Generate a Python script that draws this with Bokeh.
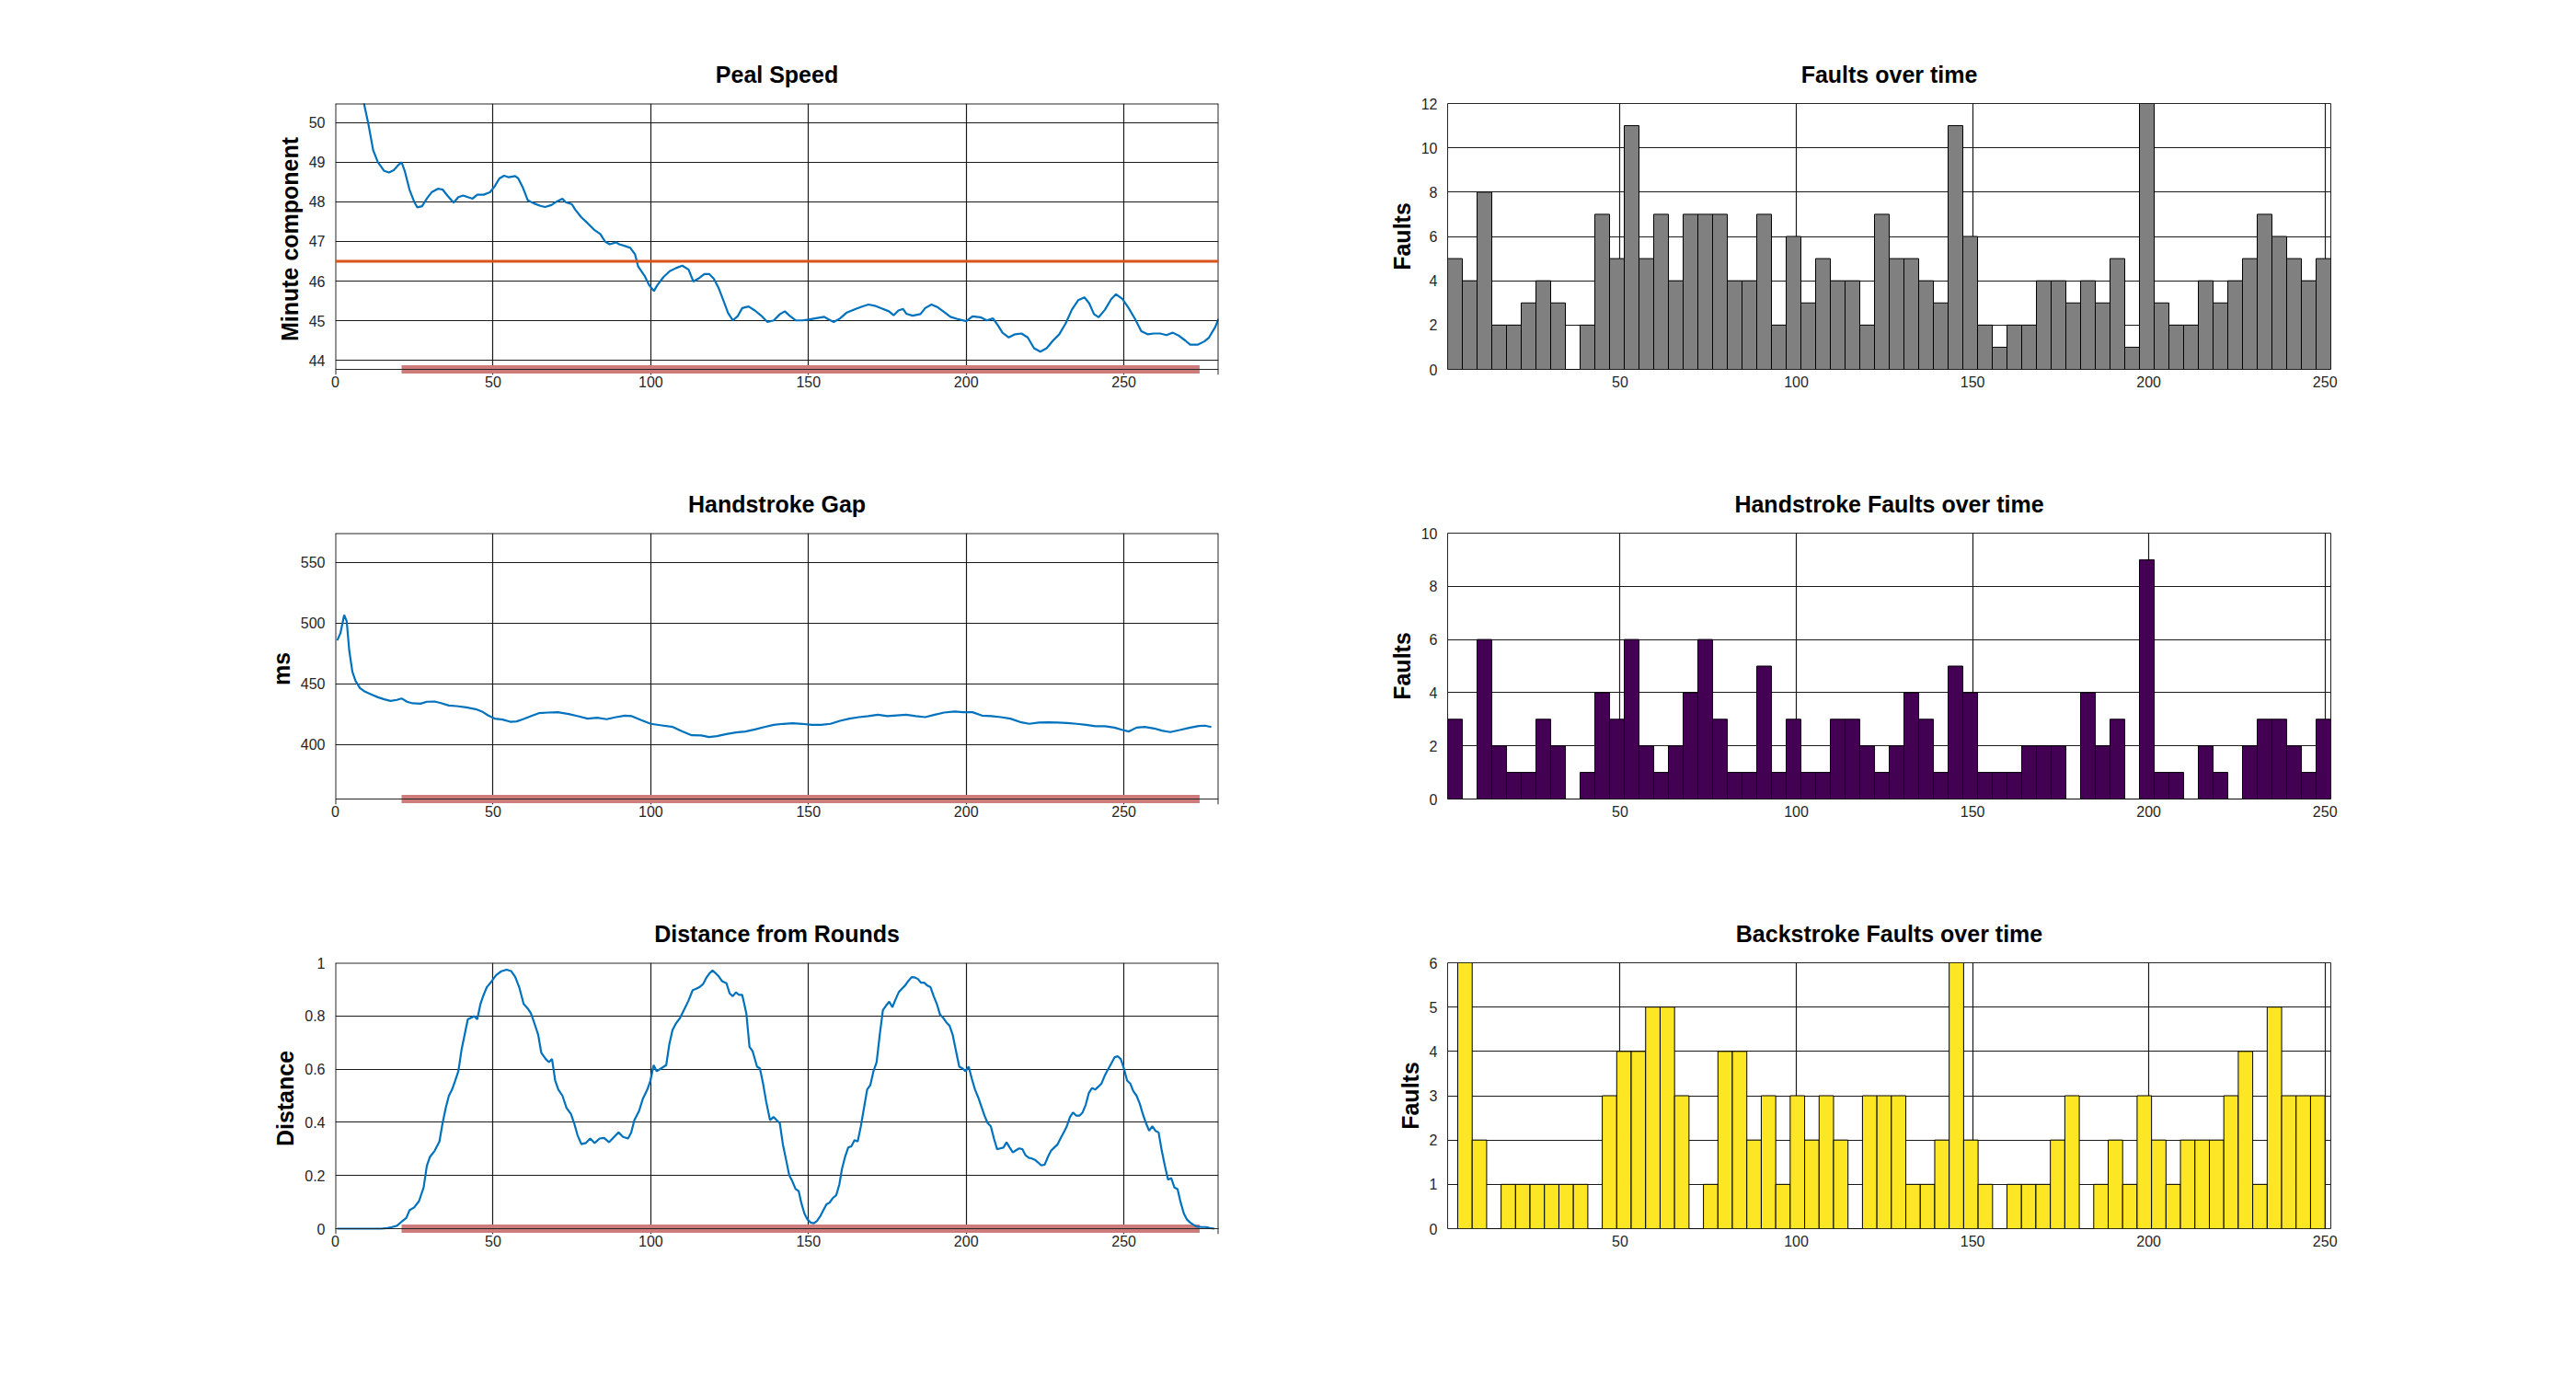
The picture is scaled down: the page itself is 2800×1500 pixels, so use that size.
import numpy as np
from bokeh.plotting import figure
from bokeh.layouts import column, row
from bokeh.models import FixedTicker, Span, Range1d
from bokeh.embed import file_html
from bokeh.resources import INLINE

# --- Linienplots (links) ---
speed_x = [1, 5, 9, 10.5, 12, 13.5, 15.5, 17, 18.5, 20, 21, 22, 23.5, 25, 26, 27.5, 29, 30.5, 32.5, 34,
           35.5, 37.5, 39, 40.5, 42, 43.5, 45, 47, 49, 50.5, 52, 53.5, 55, 57, 58, 59.5, 61, 63, 65, 66.5,
           68.5, 70, 72, 73, 75, 76, 78, 80, 82, 84, 85.5, 87, 89, 90, 92, 93.5, 95, 96, 98, 99.5,
           101, 102, 104, 106, 108, 110, 112, 113.5, 115, 117, 118.5, 120, 121.5, 123, 124.5, 126, 127.5, 129, 131, 133,
           135, 137, 139, 141, 142.5, 144, 146, 148, 150, 152, 155, 156, 158, 160, 162, 165, 167, 169, 171, 173,
           175.5, 177, 178.5, 180, 181, 183, 185.5, 187, 189, 191, 193, 195, 197, 200, 202, 204.5, 206.5, 208.5, 210, 211.5,
           213.5, 215.5, 217.5, 219.5, 221.5, 223.5, 225.5, 227.5, 229.5, 231.5, 233.5, 235.5, 237.5, 239, 240.5, 242, 244, 246, 247.5, 249.5,
           251.5, 253.5, 255.5, 257.5, 259.5, 261.5, 263.5, 265.5, 267.5, 269.5, 271, 273.5, 275.5, 277, 279, 280]
speed_y = [54.0, 52.0, 50.51, 49.95, 49.3, 49.0, 48.78, 48.74, 48.8, 48.93, 49.0, 48.78, 48.31, 48.0, 47.86, 47.89, 48.08, 48.24, 48.33, 48.31,
           48.16, 47.98, 48.12, 48.16, 48.12, 48.08, 48.18, 48.18, 48.24, 48.39, 48.59, 48.66, 48.62, 48.65, 48.59, 48.35, 48.04, 47.96, 47.9, 47.87,
           47.92, 48.0, 48.08, 47.99, 47.94, 47.81, 47.61, 47.46, 47.3, 47.19, 47.0, 46.93, 46.98, 46.93, 46.88, 46.84, 46.68, 46.37, 46.14, 45.9,
           45.75, 45.89, 46.1, 46.25, 46.33, 46.39, 46.29, 45.99, 46.06, 46.18, 46.18, 46.06, 45.83, 45.52, 45.2, 45.01, 45.11, 45.32, 45.36, 45.26,
           45.13, 44.97, 45.01, 45.17, 45.24, 45.13, 45.01, 45.01, 45.03, 45.06, 45.1, 45.05, 44.97, 45.06, 45.2, 45.3, 45.36, 45.41, 45.38, 45.32,
           45.24, 45.14, 45.26, 45.3, 45.18, 45.13, 45.17, 45.32, 45.41, 45.34, 45.22, 45.1, 45.05, 44.99, 45.11, 45.09, 45.01, 45.06, 44.89, 44.7,
           44.58, 44.66, 44.68, 44.58, 44.31, 44.22, 44.31, 44.5, 44.66, 44.93, 45.28, 45.52, 45.59, 45.44, 45.17, 45.09, 45.28, 45.55, 45.67, 45.55,
           45.32, 45.05, 44.74, 44.66, 44.68, 44.68, 44.64, 44.7, 44.62, 44.5, 44.4, 44.4, 44.48, 44.58, 44.85, 45.05]
speed_target = 46.5

gap_x = [0.6, 1.6, 2.8, 3.6, 4.4, 5.4, 6.4, 7.8, 9.4, 11.5, 13.5, 15.5, 17.5, 19.5, 21, 22.7, 24.5, 27, 29, 31.5,
         33.5, 36, 38.5, 41.5, 44.5, 46.5, 48.5, 50.5, 53, 55.5, 57.5, 59.5, 62.5, 64.5, 67.5, 70.5, 74, 77, 80, 83,
         86, 89, 91.8, 94, 97, 100, 103.5, 107, 110, 113, 116, 118.5, 121, 124, 127, 130, 133, 136, 139, 142,
         145, 148, 151, 154, 157, 160, 163, 166, 169, 172, 175, 178, 181, 184, 187, 190, 193, 196.3, 199, 202,
         205, 208, 211, 214, 217.5, 220, 223, 226, 229, 232, 235, 238, 241, 244, 247, 249.6, 251.6, 254, 256.6, 259.6,
         262, 264.7, 267.7, 270.7, 273.7, 275.7, 277.7]
gap_y = [485.9, 491.7, 506.8, 501.8, 477.8, 460.1, 452.5, 446.7, 443.7, 441.2, 439.1, 437.4, 436.1, 436.9, 438.1, 435.4, 434.1, 433.8, 435.4, 435.6,
         434.3, 432.3, 431.8, 430.8, 429.3, 427.3, 424.0, 421.5, 420.7, 418.9, 419.2, 421.0, 424.0, 426.0, 426.5, 426.8, 425.3, 423.5, 421.5, 422.2,
         421.0, 422.7, 424.0, 423.5, 420.2, 417.2, 415.9, 414.6, 410.9, 407.8, 407.6, 406.3, 407.1, 408.8, 410.1, 410.9, 412.6, 414.6, 416.4, 417.2,
         417.7, 417.2, 416.4, 416.4, 417.2, 419.7, 421.5, 422.7, 423.5, 424.7, 423.5, 424.2, 424.7, 423.5, 422.7, 424.7, 426.5, 427.3, 426.8, 426.8,
         424.0, 423.5, 422.7, 421.5, 418.4, 417.2, 418.2, 418.4, 418.2, 417.9, 417.2, 416.4, 415.2, 415.2, 414.1, 412.1, 410.9, 414.1, 414.6, 413.4,
         411.6, 410.4, 412.1, 413.9, 415.4, 415.7, 414.6]

dist_x = [0.6, 14.5, 16.5, 18, 19.5, 21, 22.5, 23.5, 25, 26.5, 28, 29, 30, 31.5, 33, 34, 35, 36, 37, 38,
          39, 40, 41, 42, 43, 44, 45, 46, 47, 48, 49.6, 51, 52.6, 54.3, 55.7, 57, 58.3, 59.7, 61, 62,
          63, 64.3, 65.3, 66.7, 67.7, 68.7, 69.7, 70.7, 72, 73.3, 74.7, 75.7, 76.8, 78, 79.4, 80.8, 82.2, 83.8, 85.2, 86.8,
          88.4, 89.8, 91.2, 92.8, 93.8, 94.8, 96.3, 97.5, 98.9, 99.9, 100.9, 101.9, 103.3, 104.9, 105.9, 106.9, 107.9, 109.3, 110.5, 111.9,
          113.3, 114.4, 115.4, 116.6, 117.6, 118.6, 119.6, 120.6, 121.6, 122.6, 124, 125, 126, 127, 128, 129, 130.3, 131.3, 132.3, 133.7,
          134.6, 135.6, 136.6, 137.8, 138.9, 139.9, 140.9, 141.9, 142.9, 143.9, 144.9, 145.9, 146.9, 147.7, 148.7, 149.7, 150.7, 151.7, 152.7, 153.7,
          154.7, 155.7, 156.7, 157.7, 158.8, 159.8, 160.6, 161.6, 162.6, 163.6, 164.6, 165.6, 166.6, 167.6, 168.6, 169.6, 170.6, 171.6, 172.6, 173.6,
          174.6, 175.6, 176.6, 177.6, 178.6, 179.6, 180.6, 181.6, 182.7, 183.7, 184.7, 185.7, 186.7, 187.7, 188.7, 189.7, 190.7, 191.7, 192.7, 193.7,
          194.7, 195.7, 196.7, 197.8, 198.8, 199.8, 200.8, 201.8, 202.8, 203.8, 204.8, 205.8, 206.8, 207.8, 208.8, 209.8, 210.8, 211.8, 212.8, 213.8,
          214.8, 215.8, 216.8, 217.8, 218.8, 219.8, 220.8, 221.8, 222.8, 223.8, 224.9, 225.9, 226.9, 227.9, 228.9, 229.9, 230.9, 231.9, 232.9, 233.9,
          234.9, 235.9, 236.9, 237.9, 238.9, 239.9, 240.9, 241.9, 242.9, 243.9, 244.9, 246, 247, 248, 249, 250, 251, 252, 253, 254,
          255, 256, 257, 258, 259, 260, 261, 262, 263, 264, 265, 266, 267, 268, 269, 270, 271, 272, 273, 274.7,
          276, 277.3, 278.7]
dist_y = [0.0, 0.0, 0.002, 0.006, 0.011, 0.026, 0.04, 0.069, 0.08, 0.103, 0.155, 0.236, 0.27, 0.293, 0.328, 0.397, 0.454, 0.5, 0.523, 0.557,
          0.592, 0.672, 0.73, 0.787, 0.793, 0.799, 0.787, 0.845, 0.879, 0.908, 0.931, 0.954, 0.968, 0.974, 0.969, 0.948, 0.908, 0.845, 0.828, 0.81,
          0.776, 0.73, 0.661, 0.638, 0.626, 0.638, 0.557, 0.523, 0.5, 0.454, 0.431, 0.397, 0.351, 0.318, 0.322, 0.339, 0.322, 0.339, 0.341, 0.325,
          0.345, 0.362, 0.345, 0.339, 0.362, 0.408, 0.443, 0.489, 0.523, 0.557, 0.615, 0.592, 0.603, 0.615, 0.695, 0.747, 0.77, 0.793, 0.822, 0.856,
          0.897, 0.902, 0.908, 0.92, 0.943, 0.96, 0.971, 0.96, 0.948, 0.931, 0.923, 0.885, 0.874, 0.889, 0.879, 0.879, 0.81, 0.684, 0.667, 0.609,
          0.603, 0.546, 0.477, 0.408, 0.42, 0.408, 0.397, 0.316, 0.259, 0.201, 0.178, 0.149, 0.141, 0.098, 0.057, 0.034, 0.023, 0.02, 0.029, 0.046,
          0.069, 0.092, 0.098, 0.115, 0.126, 0.167, 0.224, 0.27, 0.305, 0.31, 0.333, 0.328, 0.385, 0.454, 0.523, 0.54, 0.592, 0.626, 0.73, 0.822,
          0.839, 0.854, 0.833, 0.862, 0.889, 0.902, 0.914, 0.931, 0.946, 0.945, 0.939, 0.925, 0.925, 0.914, 0.908, 0.874, 0.845, 0.805, 0.793, 0.776,
          0.764, 0.73, 0.672, 0.609, 0.603, 0.592, 0.609, 0.563, 0.523, 0.494, 0.46, 0.425, 0.397, 0.385, 0.339, 0.299, 0.302, 0.305, 0.325, 0.305,
          0.287, 0.295, 0.302, 0.299, 0.276, 0.267, 0.264, 0.259, 0.249, 0.238, 0.241, 0.27, 0.293, 0.305, 0.316, 0.339, 0.362, 0.385, 0.42, 0.437,
          0.425, 0.425, 0.437, 0.466, 0.511, 0.529, 0.523, 0.534, 0.546, 0.575, 0.598, 0.621, 0.644, 0.649, 0.638, 0.603, 0.557, 0.546, 0.517, 0.5,
          0.471, 0.431, 0.397, 0.368, 0.385, 0.368, 0.362, 0.293, 0.236, 0.184, 0.19, 0.155, 0.149, 0.098, 0.057, 0.034, 0.023, 0.015, 0.008, 0.006,
          0.006, 0.002, 0.0]

# markierter Bereich (rotes Band unten)
band_start, band_end = 21, 274

# --- Histogramme (rechts), 60 Klassen ---
faults_all = [5, 4, 8, 2, 2, 3, 4, 3, 0, 2, 7, 5, 11, 5, 7, 4, 7, 7, 7, 4,
              4, 7, 2, 6, 3, 5, 4, 4, 2, 7, 5, 5, 4, 3, 11, 6, 2, 1, 2, 2,
              4, 4, 3, 4, 3, 5, 1, 12, 3, 2, 2, 4, 3, 4, 5, 7, 6, 5, 4, 5]
faults_hand = [3, 0, 6, 2, 1, 1, 3, 2, 0, 1, 4, 3, 6, 2, 1, 2, 4, 6, 3, 1,
               1, 5, 1, 3, 1, 1, 3, 3, 2, 1, 2, 4, 3, 1, 5, 4, 1, 1, 1, 2,
               2, 2, 0, 4, 2, 3, 0, 9, 1, 1, 0, 2, 1, 0, 2, 3, 3, 2, 1, 3]
faults_back = [6, 2, 0, 1, 1, 1, 1, 1, 1, 0, 3, 4, 4, 5, 5, 3, 0, 1, 4, 4,
               2, 3, 1, 3, 2, 3, 2, 0, 3, 3, 3, 1, 1, 2, 6, 2, 1, 0, 1, 1,
               1, 2, 3, 0, 1, 2, 1, 3, 2, 1, 2, 2, 2, 3, 4, 1, 5, 3, 3, 3]
bins_all = (1.06, 251.65)
bins_back = (3.93, 250.0)

FONT = "Liberation Sans"
INK = "#262626"
FRAME_H = 289
EXTRA = 6   # Platz unter dem Rahmen, damit das Band ganz sichtbar ist


def style(p, xticks, yticks, ylabel, title):
    p.title.text = title
    p.title.text_font = FONT
    p.title.text_font_size = "25px"
    p.title.text_font_style = "bold"
    p.title.text_color = "black"
    p.title.align = "center"
    p.title.standoff = 35
    p.xaxis.ticker = FixedTicker(ticks=xticks)
    p.yaxis.ticker = FixedTicker(ticks=yticks)
    p.xgrid.ticker = FixedTicker(ticks=xticks)
    p.ygrid.ticker = FixedTicker(ticks=yticks)
    for g in (p.xgrid, p.ygrid):
        g.grid_line_color = "#1a1a1a"
        g.grid_line_width = 1.2
    for ax in (p.xaxis, p.yaxis):
        ax.axis_line_color = None
        ax.major_tick_line_color = None
        ax.minor_tick_line_color = None
        ax.major_tick_out = 0
        ax.major_tick_in = 0
        ax.minor_tick_out = 0
        ax.major_label_text_font = FONT
        ax.major_label_text_font_size = "16px"
        ax.major_label_text_color = INK
    p.xaxis.major_label_standoff = 7
    p.yaxis.major_label_standoff = 11
    p.yaxis.axis_label = ylabel
    p.yaxis.axis_label_text_font = FONT
    p.yaxis.axis_label_text_font_size = "25px"
    p.yaxis.axis_label_text_font_style = "bold"
    p.yaxis.axis_label_text_color = "black"
    p.yaxis.axis_label_standoff = 4
    p.outline_line_color = INK
    p.outline_line_width = 1
    p.outline_line_alpha = 1


def make_fig(xr, yr, left, right, extra=0):
    return figure(x_range=xr, y_range=yr, frame_width=960, frame_height=FRAME_H + extra,
                  min_border_left=left, min_border_right=right,
                  min_border_top=112, min_border_bottom=66 - extra,
                  output_backend="svg", toolbar_location=None,
                  background_fill_color="white", border_fill_color="white")


def line_panel(xs, ys, yr, yticks, ylabel, title):
    pad = (yr[1] - yr[0]) * EXTRA / FRAME_H
    p = make_fig(Range1d(0, 280), Range1d(yr[0] - pad, yr[1]), 364, 10, EXTRA)
    style(p, [0, 50, 100, 150, 200, 250], yticks, ylabel, title)
    p.xaxis.major_label_standoff = 7 - EXTRA
    # Rahmen ohne untere Kante: diese liegt bei yr[0], mitten im Band
    p.outline_line_color = None
    for loc, dim in ((yr[1], "width"), (0, "height"), (280, "height")):
        p.add_layout(Span(location=loc, dimension=dim, line_color=INK, line_width=2))
    p.line([band_start, band_end], [yr[0], yr[0]], line_color="#cd7b7b", line_width=9)
    p.add_layout(Span(location=yr[0], dimension="width", line_color=INK, line_width=1))
    p.line(xs, ys, line_color="#0072bd", line_width=2.2)
    return p


def hist_panel(counts, lims, ymax, yticks, color, title):
    p = make_fig(Range1d(*bins_all), Range1d(0, ymax), 239, 20)
    style(p, [50, 100, 150, 200, 250], yticks, "Faults", title)
    edges = np.linspace(lims[0], lims[1], len(counts) + 1)
    p.quad(left=edges[:-1], right=edges[1:], bottom=0, top=counts,
           fill_color=color, line_color="black", line_width=1)
    return p


p1 = line_panel(speed_x, speed_y, (43.775, 50.48), [44, 45, 46, 47, 48, 49, 50],
                "Minute component", "Peal Speed")
p1.add_layout(Span(location=speed_target, dimension="width",
                   line_color="#d95319", line_width=3))
p2 = line_panel(gap_x, gap_y, (355.3, 574.2), [400, 450, 500, 550], "ms", "Handstroke Gap")
p3 = line_panel(dist_x, dist_y, (0, 1), [0, 0.2, 0.4, 0.6, 0.8, 1], "Distance", "Distance from Rounds")

p4 = hist_panel(faults_all, bins_all, 12, [0, 2, 4, 6, 8, 10, 12], "#808080", "Faults over time")
p5 = hist_panel(faults_hand, bins_all, 10, [0, 2, 4, 6, 8, 10], "#440154", "Handstroke Faults over time")
p6 = hist_panel(faults_back, bins_back, 6, [0, 1, 2, 3, 4, 5, 6], "#fde725", "Backstroke Faults over time")

layout = column(row(p1, p4), row(p2, p5), row(p3, p6))
open("out.html", "w").write(file_html(layout, INLINE))
